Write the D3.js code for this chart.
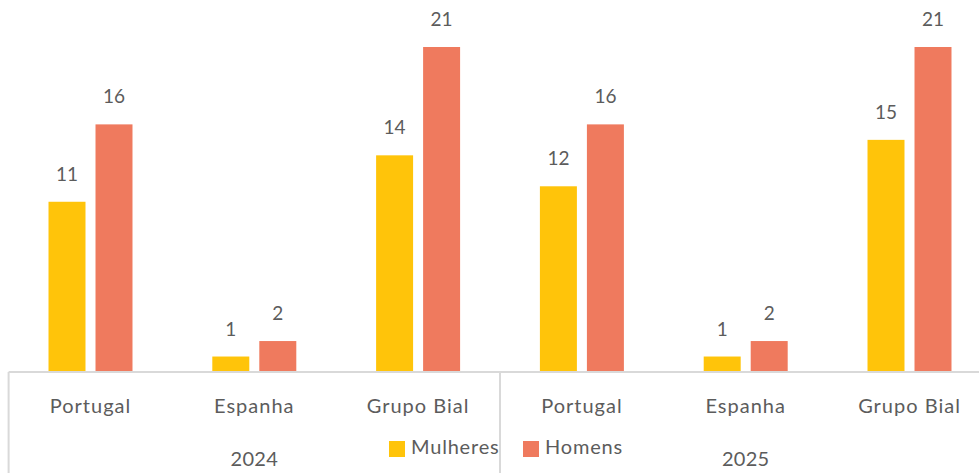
<!DOCTYPE html>
<html>
<head>
<meta charset="utf-8">
<script src="https://cdn.jsdelivr.net/npm/d3@7"></script>
<style>
  html, body { margin: 0; padding: 0; background: #fff; }
  svg { display: block; }
  text { font-family: Lato, "Open Sans", sans-serif; fill: #5c5c5c; }
</style>
</head>
<body>
<svg id="chart" width="979" height="473"></svg>
<script>
// Colaboradores por género, por região e ano
const years = ["2024", "2025"];
const regions = ["Portugal", "Espanha", "Grupo Bial"];
const series = ["Mulheres", "Homens"];
const mulheres = [11, 1, 14, 12, 1, 15];
const homens = [16, 2, 21, 16, 2, 21];
const colors = ["#FFC40A", "#EF7A5E"];

const W = 979, H = 473;
const svg = d3.select("#chart");

const cats = d3.range(years.length * regions.length);
const rows = cats.map(i => ({
  i,
  region: regions[i % regions.length],
  year: years[Math.floor(i / regions.length)],
  values: [mulheres[i], homens[i]]
}));

// outer band per category; the last band runs past the right edge
const x0 = d3.scaleBand().domain(cats).range([8.6, 991.4]).paddingInner(0).paddingOuter(0);
const x1 = d3.scaleBand().domain(series).range([0, x0.bandwidth()])
  .paddingInner(0.213).paddingOuter(0.849);
const y = d3.scaleLinear().domain([0, 21]).range([372, 47]);

const groups = svg.append("g").selectAll("g").data(rows).join("g")
  .attr("transform", d => `translate(${x0(d.i)},0)`);

groups.selectAll("rect").data(d => d.values.map((v, k) => ({ v, k })))
  .join("rect")
  .attr("x", d => x1(series[d.k]))
  .attr("width", x1.bandwidth())
  .attr("y", d => y(d.v))
  .attr("height", d => y(0) - y(d.v))
  .attr("fill", d => colors[d.k]);

groups.selectAll("text.val").data(d => d.values.map((v, k) => ({ v, k })))
  .join("text")
  .attr("class", "val")
  .attr("x", d => x1(series[d.k]) + x1.bandwidth() / 2)
  .attr("y", d => y(d.v) - 21)
  .attr("text-anchor", "middle")
  .style("font-size", "19px")
  .text(d => d.v);

// multi-level category axis
const axisG = svg.append("g");
axisG.append("line")
  .attr("x1", x0.range()[0]).attr("x2", W + 20)
  .attr("y1", y(0)).attr("y2", y(0))
  .attr("stroke", "#d9d9d9").attr("stroke-width", 2);

years.forEach((yr, j) => {
  const xs = x0(j * regions.length);
  axisG.append("line")
    .attr("x1", xs).attr("x2", xs)
    .attr("y1", y(0)).attr("y2", H)
    .attr("stroke", "#d9d9d9").attr("stroke-width", 2);
  const xe = x0((j + 1) * regions.length - 1) + x0.bandwidth();
  axisG.append("text")
    .attr("x", (xs + xe) / 2)
    .attr("y", 466)
    .attr("text-anchor", "middle")
    .style("font-size", "20px")
    .style("letter-spacing", "0.3px")
    .text(yr);
});

axisG.selectAll("text.cat").data(rows).join("text")
  .attr("class", "cat")
  .attr("x", d => x0(d.i) + x0.bandwidth() / 2)
  .attr("y", 413)
  .attr("text-anchor", "middle")
  .style("font-size", "20px")
  .style("letter-spacing", "1px")
  .text(d => d.region);

// legend
const legendX = [389, 523];
const legend = svg.append("g").selectAll("g").data(series).join("g")
  .attr("transform", (d, k) => `translate(${legendX[k]},441)`);
legend.append("rect")
  .attr("width", 16).attr("height", 16)
  .attr("fill", (d, k) => colors[k]);
legend.append("text")
  .attr("x", 22).attr("y", 13)
  .style("font-size", "20px")
  .style("letter-spacing", "0.8px")
  .text(d => d);
</script>
</body>
</html>
